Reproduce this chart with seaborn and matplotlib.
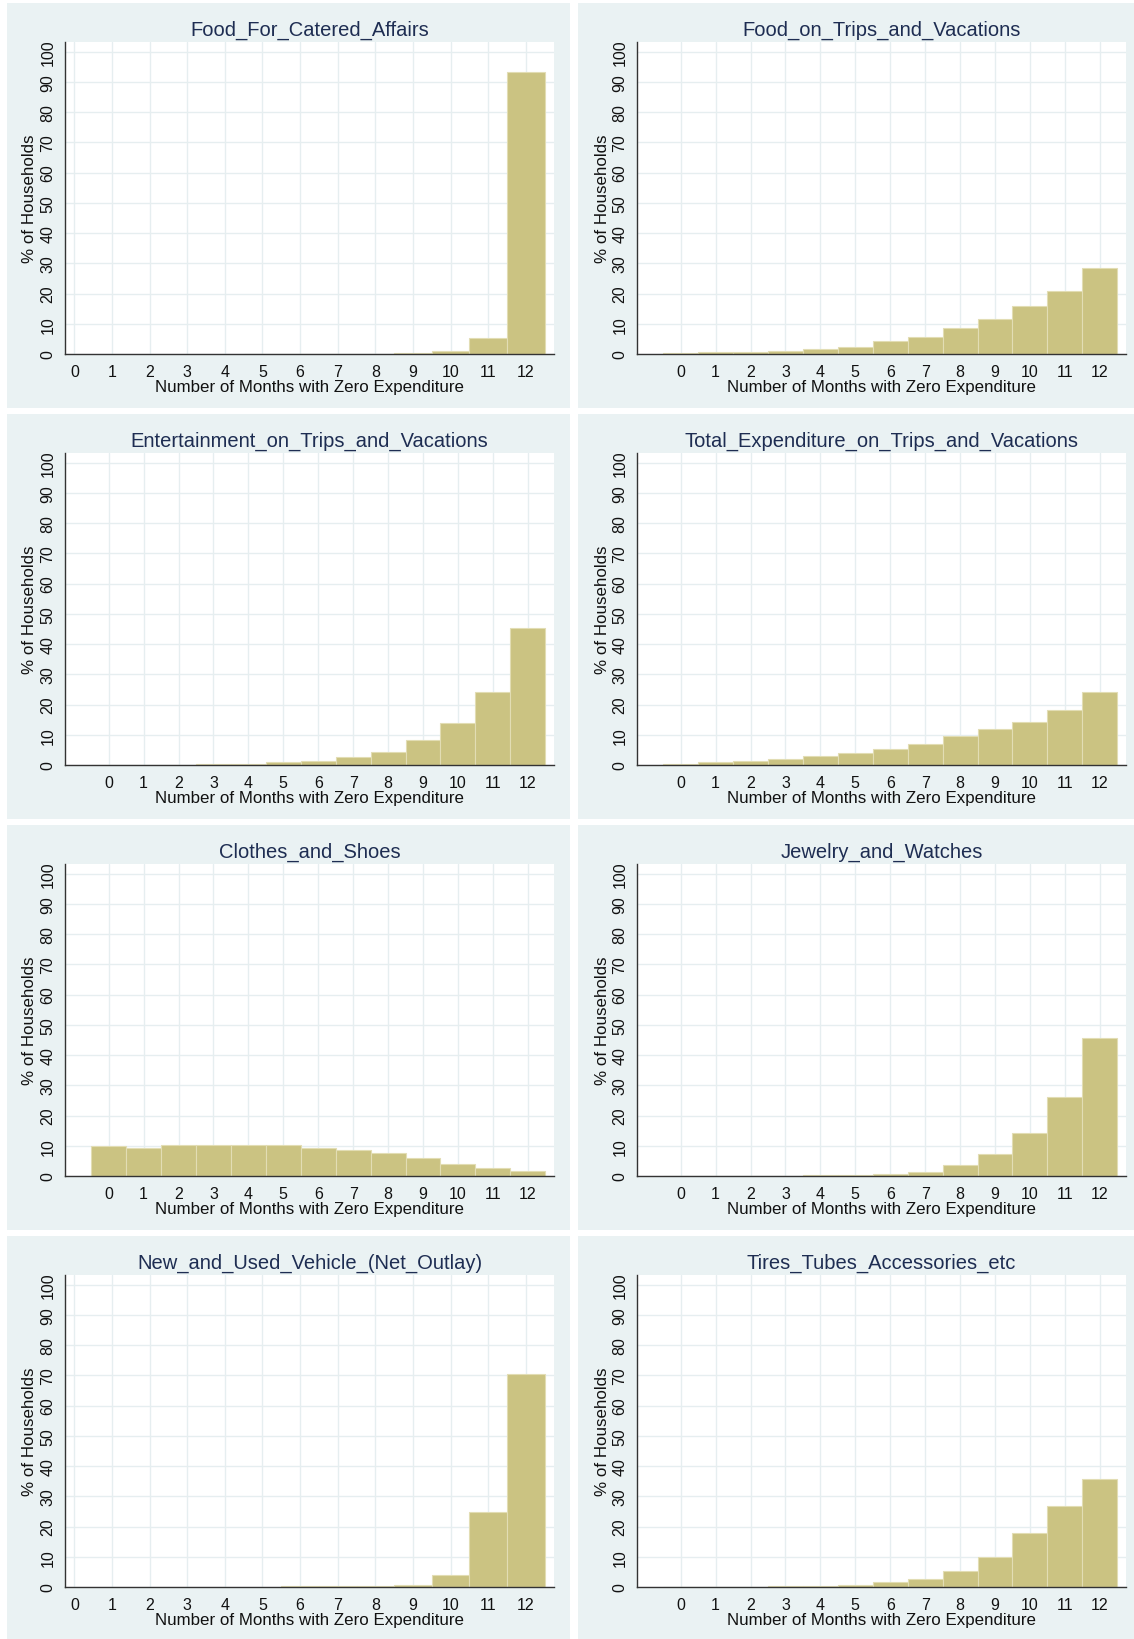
import pandas as pd
import matplotlib.pyplot as plt
import seaborn as sns
from matplotlib.patches import Rectangle

# % of households by number of months with zero expenditure (0..12)
months = list(range(13))

food_catered = [0, 0, 0, 0, 0, 0.05, 0.05, 0.05, 0.05, 0.3, 0.9, 5.3, 93.3]
food_trips = [0.3, 0.5, 0.8, 1.1, 1.7, 2.4, 4.2, 5.7, 8.6, 11.7, 15.8, 20.7, 28.5]
entertainment_trips = [0.1, 0.1, 0.1, 0.2, 0.45, 0.9, 1.3, 2.5, 4.2, 8.3, 14.0, 24.1, 45.2]
total_trips = [0.45, 0.9, 1.2, 2.1, 2.9, 3.9, 5.4, 7.1, 9.6, 11.8, 14.2, 18.2, 24.1]
clothes_shoes = [10.0, 9.1, 10.1, 10.3, 10.3, 10.3, 9.4, 8.6, 7.6, 5.8, 4.0, 2.8, 1.8]
jewelry_watches = [0.1, 0.1, 0.1, 0.1, 0.2, 0.45, 0.8, 1.4, 3.7, 7.3, 14.3, 26.2, 45.5]
vehicles = [0, 0, 0, 0, 0, 0, 0.2, 0.2, 0.2, 0.7, 4.1, 24.8, 70.5]
tires = [0.1, 0.1, 0.1, 0.2, 0.45, 0.8, 1.55, 2.8, 5.2, 9.9, 17.7, 26.8, 35.8]

titles = [
    "Food_For_Catered_Affairs",
    "Food_on_Trips_and_Vacations",
    "Entertainment_on_Trips_and_Vacations",
    "Total_Expenditure_on_Trips_and_Vacations",
    "Clothes_and_Shoes",
    "Jewelry_and_Watches",
    "New_and_Used_Vehicle_(Net_Outlay)",
    "Tires_Tubes_Accessories_etc",
]
series = [food_catered, food_trips, entertainment_trips, total_trips,
          clothes_shoes, jewelry_watches, vehicles, tires]

# Stata s2color-like styling
panel_bg = "#EAF2F3"
grid_col = "#E6EEF0"
bar_col = "#CBC382"
edge_col = "#E2DDB4"
title_col = "#1E2D52"
axis_col = "#333333"

sns.set_style("white")
plt.rcParams['font.family'] = ['Liberation Sans', 'DejaVu Sans']

W, H = 1134, 1640
fig = plt.figure(figsize=(W / 100, H / 100), dpi=100)
fig.patch.set_facecolor("white")

for i, (name, vals) in enumerate(zip(titles, series)):
    row, col = divmod(i, 2)
    top = 4 + row * 411

    # grey-blue panel background, kept behind the axes
    x0, x1 = (7, 570) if col == 0 else (578, 1134)
    fig.patches.append(Rectangle((x0 / W, 1 - (top + 405) / H), (x1 - x0) / W, 405 / H,
                                 transform=fig.transFigure, facecolor=panel_bg,
                                 edgecolor="none", zorder=-10))

    left, right = (65, 554) if col == 0 else (637, 1126)
    ax = fig.add_axes([left / W, 1 - (top + 351) / H, (right - left) / W, 312 / H])
    ax.set_facecolor("white")
    ax.set_zorder(5)

    df = pd.DataFrame({"months": months, "pct": vals})
    df = df[df["pct"] > 0]
    sns.histplot(data=df, x="months", weights="pct", discrete=True, ax=ax,
                 color=bar_col, edgecolor=edge_col, linewidth=0.8, alpha=1)

    xmin = -0.25 if df["months"].min() > 0 else -1.25
    ax.set_xlim(xmin, 12.75)
    ax.set_ylim(0, 103.2)
    ax.set_xticks(months)
    ax.set_yticks(range(0, 101, 10))
    ax.grid(True, color=grid_col, linewidth=1)
    ax.set_axisbelow(True)

    for s in ["top", "right"]:
        ax.spines[s].set_visible(False)
    for s in ["left", "bottom"]:
        ax.spines[s].set_color(axis_col)
        ax.spines[s].set_linewidth(1)

    ax.tick_params(axis="both", direction="out", length=5, width=1,
                   color=axis_col, labelsize=11.5, labelcolor="#111111", pad=2)
    ax.tick_params(axis="y", labelrotation=90)
    for lab in ax.get_yticklabels():
        lab.set_va("center")

    ax.set_ylabel("% of Households", fontsize=12.2, color="#111111", labelpad=2)
    ax.set_xlabel("Number of Months with Zero Expenditure", fontsize=12.2,
                  color="#111111", labelpad=0)
    ax.set_title(name, fontsize=14.5, color=title_col, pad=5)

fig.savefig("out.png", dpi=100, facecolor="white")
